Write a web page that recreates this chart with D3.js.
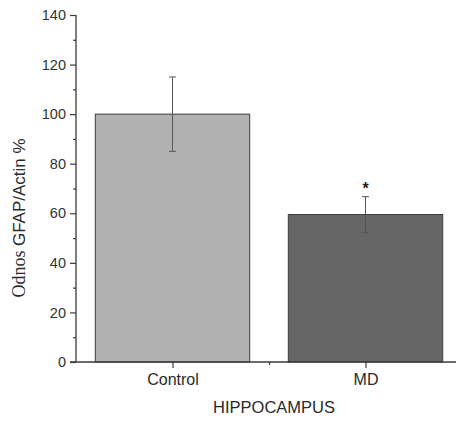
<!DOCTYPE html>
<html><head><meta charset="utf-8">
<script src="https://cdn.jsdelivr.net/npm/d3@7/dist/d3.min.js"></script>
<style>body{margin:0;background:#fff}svg{display:block}</style>
</head><body><svg id="c" width="456" height="421"></svg>
<script>
const categories = ["Control", "MD"];
const values = [100, 59.5];
const errors = [15, 7.2];
const barColors = ["#b1b1b1", "#666666"];
const yTicks = [0, 20, 40, 60, 80, 100, 120, 140];
const yMinorTicks = [10, 30, 50, 70, 90, 110, 130];
const significance = ["", "*"];

const svg = d3.select("#c");
const x = d3.scaleLinear().domain([0.5, 2.5]).range([76, 462]);
const y = d3.scaleLinear().domain([0, 140]).range([362, 15]);
const axisColor = "#3a3a3a";
const barW = x(1.8) - x(1);
const sans = "Liberation Sans, Arial, sans-serif";

// bars
svg.selectAll("rect.bar").data(values).join("rect")
  .attr("x", (d,i) => x(i+1) - barW/2)
  .attr("y", d => y(d))
  .attr("width", barW)
  .attr("height", d => y(0) - y(d))
  .attr("fill", (d,i) => barColors[i])
  .attr("stroke", "#3c3c3c").attr("stroke-width", 1);

// error bars
const eg = svg.append("g").attr("stroke", "#555").attr("stroke-width", 1);
values.forEach((v,i) => {
  const cx = x(i+1);
  eg.append("line").attr("x1", cx).attr("x2", cx).attr("y1", y(v+errors[i])).attr("y2", y(v-errors[i]));
  eg.append("line").attr("x1", cx-3.5).attr("x2", cx+3.5).attr("y1", y(v+errors[i])).attr("y2", y(v+errors[i]));
  eg.append("line").attr("x1", cx-3.5).attr("x2", cx+3.5).attr("y1", y(v-errors[i])).attr("y2", y(v-errors[i]));
  if (significance[i]) {
    svg.append("text").attr("x", cx).attr("y", y(v+errors[i]) - 3)
      .attr("text-anchor", "middle").attr("font-family", sans).attr("font-weight", "bold")
      .attr("font-size", 16).attr("fill", "#222").text(significance[i]);
  }
});

// y axis
const yAxis = d3.axisLeft(y).tickValues(yTicks).tickSize(6).tickPadding(4);
const gy = svg.append("g").attr("transform", "translate(76,0)").call(yAxis);
gy.select(".domain").attr("stroke", axisColor).attr("stroke-width", 1.3).attr("d", `M0,${y(0)}V${y(140)}`);
gy.selectAll(".tick line").attr("stroke", axisColor).attr("stroke-width", 1.2);
gy.selectAll("text").attr("font-family", sans).attr("font-size", 14.5).attr("fill", "#333");
const gym = svg.append("g").attr("transform", "translate(76,0)").call(d3.axisLeft(y).tickValues(yMinorTicks).tickSize(3).tickFormat(""));
gym.select(".domain").remove();
gym.selectAll(".tick line").attr("stroke", axisColor).attr("stroke-width", 1.2);

// x axis
const gx = svg.append("g").attr("transform", `translate(0,${y(0)})`)
  .call(d3.axisBottom(x).tickValues([1, 2]).tickFormat((d) => categories[d-1]).tickSize(6).tickPadding(6));
gx.select(".domain").attr("stroke", axisColor).attr("stroke-width", 1.3).attr("d", "M70,0H456");
gx.selectAll(".tick line").attr("stroke", axisColor).attr("stroke-width", 1.2);
gx.selectAll("text").attr("font-family", sans).attr("font-size", 16).attr("fill", "#2a2a2a");
const gxm = svg.append("g").attr("transform", `translate(0,${y(0)})`)
  .call(d3.axisBottom(x).tickValues([1.5]).tickSize(3).tickFormat(""));
gxm.select(".domain").remove();
gxm.selectAll(".tick line").attr("stroke", axisColor).attr("stroke-width", 1.2);

// axis titles
svg.append("text").attr("x", 274).attr("y", 413).attr("text-anchor", "middle")
  .attr("font-family", sans).attr("font-size", 16.5).attr("fill", "#2a2a2a")
  .text("HIPPOCAMPUS");
const yt = svg.append("text").attr("transform", "translate(25,218) rotate(-90)").attr("text-anchor", "middle")
  .attr("font-size", 18).attr("fill", "#2a2a2a");
yt.append("tspan").attr("font-family", "Liberation Serif, Times New Roman, serif").text("Odnos ");
yt.append("tspan").attr("font-family", sans).attr("font-size", 17).text("GFAP/Actin %");
</script></body></html>
